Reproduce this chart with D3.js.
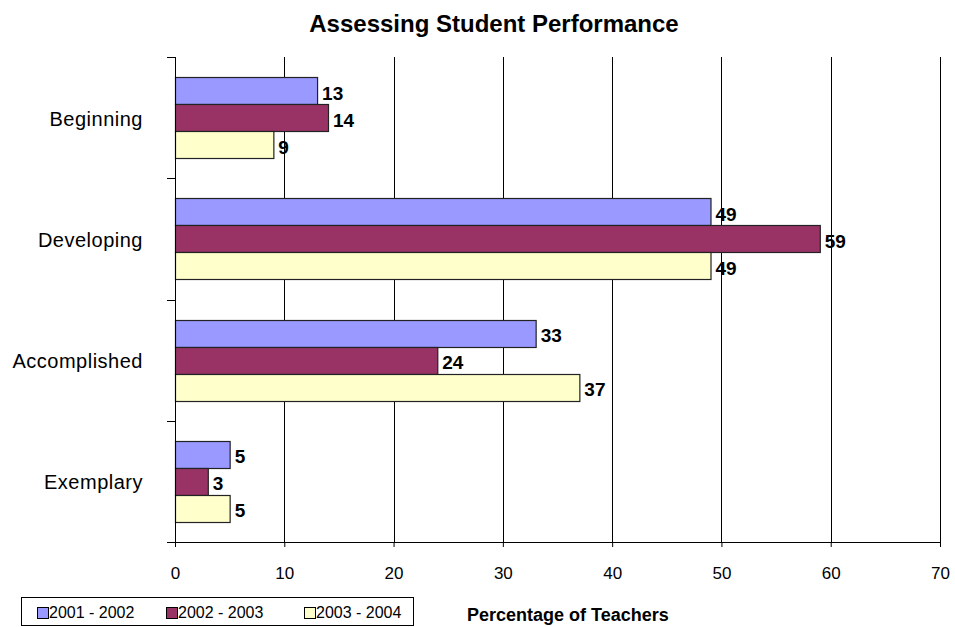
<!DOCTYPE html>
<html>
<head>
<meta charset="utf-8">
<script src="https://cdn.jsdelivr.net/npm/d3@7"></script>
<style>
  body { margin: 0; background: #fff; }
  text { font-family: Arial, "Liberation Sans", sans-serif; }
</style>
</head>
<body>
<div id="chart"></div>
<script>
// data
var categories = ["Beginning", "Developing", "Accomplished", "Exemplary"];
var seriesNames = ["2001 - 2002", "2002 - 2003", "2003 - 2004"];
var values2001 = [13, 49, 33, 5];
var values2002 = [14, 59, 24, 3];
var values2003 = [9, 49, 37, 5];
var xTicks = [0, 10, 20, 30, 40, 50, 60, 70];
var colors = ["#9999ff", "#993366", "#ffffcc"];

var W = 955, H = 627;
var svg = d3.select("#chart").append("svg")
  .attr("width", W).attr("height", H);

var x = d3.scaleLinear().domain([0, 70]).range([175, 940]);
var y = d3.scaleBand().domain(categories).range([57, 542]);
// three bars touching, centred in each band
var barH = 27;
var barOff = (y.bandwidth() - barH * 3) / 2;

var allSeries = [values2001, values2002, values2003];

// title
svg.append("text")
  .attr("x", 494).attr("y", 32)
  .attr("text-anchor", "middle")
  .style("font-size", "24px").style("font-weight", "bold")
  .text("Assessing Student Performance");

// vertical gridlines
svg.append("g").selectAll("line")
  .data(xTicks.filter(function(d) { return d > 0; }))
  .enter().append("line")
  .attr("x1", function(d) { return Math.round(x(d)) + 0.5; })
  .attr("x2", function(d) { return Math.round(x(d)) + 0.5; })
  .attr("y1", 57).attr("y2", 542)
  .attr("stroke", "#000").attr("stroke-width", 1);

// bars + value labels
allSeries.forEach(function(vals, s) {
  svg.append("g").selectAll("rect")
    .data(vals)
    .enter().append("rect")
    .attr("x", x(0) + 0.5)
    .attr("y", function(d, i) { return Math.round(y(categories[i]) + barOff + s * barH) + 0.5; })
    .attr("width", function(d) { return x(d) - x(0); })
    .attr("height", barH)
    .attr("fill", colors[s])
    .attr("stroke", "#222").attr("stroke-width", 1.2);

  svg.append("g").selectAll("text")
    .data(vals)
    .enter().append("text")
    .attr("x", function(d) { return x(d) + 5; })
    .attr("y", function(d, i) { return y(categories[i]) + barOff + s * barH + barH / 2 + 9; })
    .style("font-size", "19px").style("font-weight", "bold")
    .text(function(d) { return d; });
});

// left axis
svg.append("line")
  .attr("x1", 175.5).attr("x2", 175.5).attr("y1", 57).attr("y2", 542)
  .attr("stroke", "#000");
svg.append("g").selectAll("line")
  .data(d3.range(5))
  .enter().append("line")
  .attr("x1", 167).attr("x2", 175)
  .attr("y1", function(d) { return Math.round(57 + d * y.bandwidth()) + 0.5; })
  .attr("y2", function(d) { return Math.round(57 + d * y.bandwidth()) + 0.5; })
  .attr("stroke", "#000");
svg.append("g").selectAll("text")
  .data(categories)
  .enter().append("text")
  .attr("x", 143)
  .attr("y", function(d) { return y(d) + y.bandwidth() / 2 + 8; })
  .attr("text-anchor", "end")
  .style("font-size", "20px").style("letter-spacing", "0.5px")
  .text(function(d) { return d; });

// bottom axis
var bottom = svg.append("g").attr("transform", "translate(0,542)")
  .call(d3.axisBottom(x).tickValues(xTicks).tickSize(5).tickPadding(20).tickSizeOuter(0));
bottom.select(".domain").attr("stroke", "#000").attr("d", "M" + x(0) + ",0.5H" + x(70));
bottom.selectAll(".tick line").attr("stroke", "#000");
bottom.selectAll(".tick text")
  .style("font-size", "17px").style("font-family", "Arial, 'Liberation Sans', sans-serif")
  .attr("fill", "#000");

// legend
var legend = svg.append("g");
legend.append("rect")
  .attr("x", 21.5).attr("y", 597.5).attr("width", 392).attr("height", 28)
  .attr("fill", "#fff").attr("stroke", "#000");
var legX = [37, 166, 304];
seriesNames.forEach(function(n, i) {
  legend.append("rect")
    .attr("x", legX[i] + 0.5).attr("y", 607.5).attr("width", 11).attr("height", 11)
    .attr("fill", colors[i]).attr("stroke", "#000");
  legend.append("text")
    .attr("x", legX[i] + 12).attr("y", 618)
    .style("font-size", "16px")
    .text(n);
});

svg.append("text")
  .attr("x", 467).attr("y", 621)
  .style("font-size", "18px").style("font-weight", "bold")
  .text("Percentage of Teachers");
</script>
</body>
</html>
